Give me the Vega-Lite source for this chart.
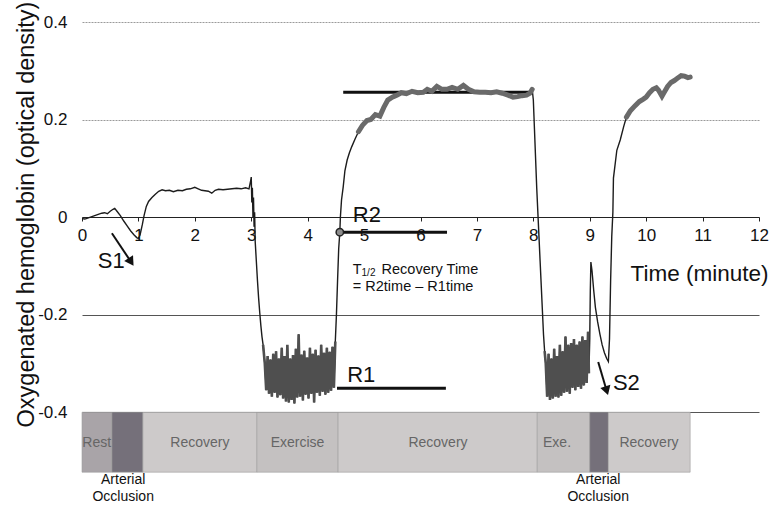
{
  "$schema": "https://vega.github.io/schema/vega-lite/v6.json",
  "width": 677,
  "height": 478,
  "autosize": {"type": "none"},
  "padding": {"left": 82, "top": 22, "right": 12, "bottom": 5},
  "background": "white",
  "config": {"view": {"stroke": null}, "font": "Liberation Sans"},
  "datasets": {
    "trace": [
      {"t": 0.00, "od": -0.003}, {"t": 0.05, "od": -0.004}, {"t": 0.10, "od": -0.002}, {"t": 0.15, "od": 0.000},
      {"t": 0.20, "od": 0.002}, {"t": 0.25, "od": 0.004}, {"t": 0.30, "od": 0.006}, {"t": 0.35, "od": 0.008},
      {"t": 0.40, "od": 0.009}, {"t": 0.45, "od": 0.007}, {"t": 0.50, "od": 0.012}, {"t": 0.55, "od": 0.016},
      {"t": 0.58, "od": 0.018}, {"t": 0.62, "od": 0.012}, {"t": 0.68, "od": 0.003}, {"t": 0.74, "od": -0.008},
      {"t": 0.80, "od": -0.018}, {"t": 0.86, "od": -0.028}, {"t": 0.92, "od": -0.036}, {"t": 0.97, "od": -0.042},
      {"t": 1.00, "od": -0.044}, {"t": 1.03, "od": -0.036}, {"t": 1.07, "od": -0.015}, {"t": 1.10, "od": 0.003},
      {"t": 1.14, "od": 0.022}, {"t": 1.18, "od": 0.032}, {"t": 1.24, "od": 0.040}, {"t": 1.30, "od": 0.047},
      {"t": 1.36, "od": 0.053}, {"t": 1.42, "od": 0.056}, {"t": 1.48, "od": 0.054}, {"t": 1.55, "od": 0.055},
      {"t": 1.62, "od": 0.052}, {"t": 1.70, "od": 0.055}, {"t": 1.78, "od": 0.054}, {"t": 1.85, "od": 0.057},
      {"t": 1.92, "od": 0.058}, {"t": 2.00, "od": 0.061}, {"t": 2.06, "od": 0.058}, {"t": 2.12, "od": 0.055},
      {"t": 2.18, "od": 0.054}, {"t": 2.24, "od": 0.053}, {"t": 2.30, "od": 0.049}, {"t": 2.36, "od": 0.055},
      {"t": 2.42, "od": 0.057}, {"t": 2.50, "od": 0.056}, {"t": 2.58, "od": 0.057}, {"t": 2.66, "od": 0.058},
      {"t": 2.74, "od": 0.059}, {"t": 2.82, "od": 0.058}, {"t": 2.90, "od": 0.060}, {"t": 2.96, "od": 0.058},
      {"t": 2.99, "od": 0.075}, {"t": 3.00, "od": 0.082}, {"t": 3.01, "od": 0.030}, {"t": 3.02, "od": 0.060},
      {"t": 3.03, "od": 0.000}, {"t": 3.04, "od": 0.040}, {"t": 3.05, "od": -0.020}, {"t": 3.06, "od": 0.010},
      {"t": 3.07, "od": -0.050}, {"t": 3.09, "od": -0.090}, {"t": 3.11, "od": -0.130}, {"t": 3.13, "od": -0.165},
      {"t": 3.15, "od": -0.195}, {"t": 3.17, "od": -0.222}, {"t": 3.19, "od": -0.245}, {"t": 3.21, "od": -0.262},
      {"t": 3.240, "od": -0.300}, {"t": 3.265, "od": -0.355}, {"t": 3.290, "od": -0.285}, {"t": 3.315, "od": -0.362},
      {"t": 3.340, "od": -0.292}, {"t": 3.365, "od": -0.368}, {"t": 3.390, "od": -0.280}, {"t": 3.415, "od": -0.360},
      {"t": 3.440, "od": -0.275}, {"t": 3.465, "od": -0.370}, {"t": 3.490, "od": -0.290}, {"t": 3.515, "od": -0.365},
      {"t": 3.540, "od": -0.268}, {"t": 3.565, "od": -0.372}, {"t": 3.590, "od": -0.285}, {"t": 3.615, "od": -0.378},
      {"t": 3.640, "od": -0.262}, {"t": 3.665, "od": -0.380}, {"t": 3.690, "od": -0.290}, {"t": 3.715, "od": -0.375},
      {"t": 3.740, "od": -0.283}, {"t": 3.765, "od": -0.382}, {"t": 3.790, "od": -0.270}, {"t": 3.815, "od": -0.370},
      {"t": 3.840, "od": -0.240}, {"t": 3.865, "od": -0.368}, {"t": 3.890, "od": -0.282}, {"t": 3.915, "od": -0.376},
      {"t": 3.940, "od": -0.274}, {"t": 3.965, "od": -0.364}, {"t": 3.990, "od": -0.288}, {"t": 4.015, "od": -0.372},
      {"t": 4.040, "od": -0.268}, {"t": 4.065, "od": -0.362}, {"t": 4.090, "od": -0.280}, {"t": 4.115, "od": -0.380},
      {"t": 4.140, "od": -0.272}, {"t": 4.165, "od": -0.360}, {"t": 4.190, "od": -0.284}, {"t": 4.215, "od": -0.366},
      {"t": 4.240, "od": -0.262}, {"t": 4.265, "od": -0.358}, {"t": 4.290, "od": -0.278}, {"t": 4.315, "od": -0.364},
      {"t": 4.340, "od": -0.268}, {"t": 4.365, "od": -0.360}, {"t": 4.390, "od": -0.276}, {"t": 4.415, "od": -0.356},
      {"t": 4.440, "od": -0.266}, {"t": 4.465, "od": -0.350}, {"t": 4.490, "od": -0.255},
      {"t": 4.51, "od": -0.200}, {"t": 4.53, "od": -0.130}, {"t": 4.55, "od": -0.065}, {"t": 4.57, "od": -0.031},
      {"t": 4.58, "od": 0.000}, {"t": 4.60, "od": 0.035}, {"t": 4.63, "od": 0.062}, {"t": 4.66, "od": 0.095},
      {"t": 4.70, "od": 0.117}, {"t": 4.74, "od": 0.132}, {"t": 4.78, "od": 0.144}, {"t": 4.84, "od": 0.160},
      {"t": 4.90, "od": 0.175}, {"t": 4.97, "od": 0.188}, {"t": 5.05, "od": 0.198}, {"t": 5.12, "od": 0.200},
      {"t": 5.20, "od": 0.210}, {"t": 5.28, "od": 0.207}, {"t": 5.35, "od": 0.225}, {"t": 5.42, "od": 0.240},
      {"t": 5.50, "od": 0.246}, {"t": 5.58, "od": 0.250}, {"t": 5.66, "od": 0.255}, {"t": 5.75, "od": 0.253},
      {"t": 5.85, "od": 0.258}, {"t": 5.95, "od": 0.255}, {"t": 6.05, "od": 0.256}, {"t": 6.12, "od": 0.262},
      {"t": 6.20, "od": 0.258}, {"t": 6.29, "od": 0.268}, {"t": 6.38, "od": 0.262}, {"t": 6.47, "od": 0.262},
      {"t": 6.56, "od": 0.266}, {"t": 6.66, "od": 0.262}, {"t": 6.76, "od": 0.270}, {"t": 6.85, "od": 0.262},
      {"t": 6.95, "od": 0.257}, {"t": 7.05, "od": 0.256}, {"t": 7.15, "od": 0.256}, {"t": 7.25, "od": 0.255},
      {"t": 7.35, "od": 0.257}, {"t": 7.45, "od": 0.254}, {"t": 7.55, "od": 0.250}, {"t": 7.64, "od": 0.246},
      {"t": 7.72, "od": 0.247}, {"t": 7.80, "od": 0.249}, {"t": 7.88, "od": 0.250}, {"t": 7.94, "od": 0.254},
      {"t": 7.98, "od": 0.262}, {"t": 8.00, "od": 0.240}, {"t": 8.02, "od": 0.180}, {"t": 8.04, "od": 0.120},
      {"t": 8.06, "od": 0.060}, {"t": 8.08, "od": 0.010}, {"t": 8.10, "od": -0.040}, {"t": 8.12, "od": -0.090},
      {"t": 8.14, "od": -0.140}, {"t": 8.16, "od": -0.190}, {"t": 8.18, "od": -0.240}, {"t": 8.20, "od": -0.275},
      {"t": 8.220, "od": -0.300}, {"t": 8.245, "od": -0.368}, {"t": 8.270, "od": -0.280}, {"t": 8.295, "od": -0.375},
      {"t": 8.320, "od": -0.290}, {"t": 8.345, "od": -0.372}, {"t": 8.370, "od": -0.270}, {"t": 8.395, "od": -0.368},
      {"t": 8.420, "od": -0.285}, {"t": 8.445, "od": -0.370}, {"t": 8.470, "od": -0.262}, {"t": 8.495, "od": -0.366},
      {"t": 8.520, "od": -0.275}, {"t": 8.545, "od": -0.360}, {"t": 8.570, "od": -0.245}, {"t": 8.595, "od": -0.358},
      {"t": 8.620, "od": -0.262}, {"t": 8.645, "od": -0.362}, {"t": 8.670, "od": -0.258}, {"t": 8.695, "od": -0.350},
      {"t": 8.720, "od": -0.250}, {"t": 8.745, "od": -0.355}, {"t": 8.770, "od": -0.262}, {"t": 8.795, "od": -0.348},
      {"t": 8.820, "od": -0.255}, {"t": 8.845, "od": -0.352}, {"t": 8.870, "od": -0.245}, {"t": 8.895, "od": -0.345},
      {"t": 8.920, "od": -0.252}, {"t": 8.945, "od": -0.340}, {"t": 8.970, "od": -0.235}, {"t": 8.985, "od": -0.320},
      {"t": 9.00, "od": -0.250}, {"t": 9.01, "od": -0.150}, {"t": 9.02, "od": -0.092}, {"t": 9.04, "od": -0.110},
      {"t": 9.07, "od": -0.150}, {"t": 9.10, "od": -0.185}, {"t": 9.14, "od": -0.215}, {"t": 9.18, "od": -0.240},
      {"t": 9.22, "od": -0.262}, {"t": 9.26, "od": -0.278}, {"t": 9.30, "od": -0.290}, {"t": 9.33, "od": -0.296},
      {"t": 9.35, "od": -0.250}, {"t": 9.37, "od": -0.130}, {"t": 9.39, "od": -0.040}, {"t": 9.41, "od": 0.010},
      {"t": 9.42, "od": 0.080}, {"t": 9.48, "od": 0.137}, {"t": 9.54, "od": 0.158}, {"t": 9.60, "od": 0.185},
      {"t": 9.65, "od": 0.205}, {"t": 9.72, "od": 0.218}, {"t": 9.80, "od": 0.228}, {"t": 9.88, "od": 0.237},
      {"t": 9.95, "od": 0.242}, {"t": 10.00, "od": 0.246}, {"t": 10.06, "od": 0.255}, {"t": 10.12, "od": 0.262},
      {"t": 10.18, "od": 0.265}, {"t": 10.22, "od": 0.260}, {"t": 10.28, "od": 0.248}, {"t": 10.32, "od": 0.256},
      {"t": 10.38, "od": 0.268}, {"t": 10.44, "od": 0.276}, {"t": 10.50, "od": 0.280}, {"t": 10.56, "od": 0.285},
      {"t": 10.62, "od": 0.290}, {"t": 10.68, "od": 0.289}, {"t": 10.74, "od": 0.286}, {"t": 10.78, "od": 0.287}
    ],
    "protocol": [
      {"kind": "Rest", "start": 0, "end": 0.53},
      {"kind": "Occlusion", "start": 0.53, "end": 1.08},
      {"kind": "Recovery", "start": 1.08, "end": 3.1},
      {"kind": "Exercise", "start": 3.1, "end": 4.54},
      {"kind": "Recovery", "start": 4.54, "end": 8.07},
      {"kind": "Exercise", "start": 8.07, "end": 9.0},
      {"kind": "Occlusion", "start": 9.0, "end": 9.33},
      {"kind": "Recovery", "start": 9.33, "end": 10.78}
    ],
    "captions": [
      {"text": "Rest", "t": 0.26, "od": -0.463, "role": "bar"},
      {"text": "Recovery", "t": 2.09, "od": -0.463, "role": "bar"},
      {"text": "Exercise", "t": 3.82, "od": -0.463, "role": "bar"},
      {"text": "Recovery", "t": 6.31, "od": -0.463, "role": "bar"},
      {"text": "Exe.", "t": 8.42, "od": -0.463, "role": "bar"},
      {"text": "Recovery", "t": 10.05, "od": -0.463, "role": "bar"},
      {"text": "Arterial", "t": 0.73, "od": -0.539, "role": "cap"},
      {"text": "Occlusion", "t": 0.73, "od": -0.574, "role": "cap"},
      {"text": "Arterial", "t": 9.15, "od": -0.539, "role": "cap"},
      {"text": "Occlusion", "t": 9.15, "od": -0.574, "role": "cap"}
    ],
    "notes": [
      {"text": "R2", "t": 4.80, "od": -0.010, "role": "big"},
      {"text": "R1", "t": 4.70, "od": -0.338, "role": "big"},
      {"text": "S1", "t": 0.28, "od": -0.105, "role": "big"},
      {"text": "S2", "t": 9.41, "od": -0.355, "role": "big"},
      {"text": "T", "t": 4.80, "od": -0.117, "role": "mid"},
      {"text": "1/2", "t": 4.955, "od": -0.121, "role": "sub"},
      {"text": "Recovery Time", "t": 5.31, "od": -0.117, "role": "mid"},
      {"text": "= R2time – R1time", "t": 4.80, "od": -0.152, "role": "mid"}
    ],
    "levels": [
      {"name": "plateau", "t1": 4.63, "t2": 7.98, "v": 0.256},
      {"name": "R2", "t1": 4.57, "t2": 6.47, "v": -0.031},
      {"name": "R1", "t1": 4.52, "t2": 6.45, "v": -0.351}
    ],
    "arrows": [
      {"name": "S1", "t1": 0.53, "v1": -0.033, "t2": 0.87, "v2": -0.092},
      {"name": "S2", "t1": 9.15, "v1": -0.297, "t2": 9.30, "v2": -0.356}
    ]
  },
  "layer": [
    {
      "data": {"name": "protocol"},
      "mark": {"type": "rect", "stroke": "#a0a0a0", "strokeWidth": 0.6},
      "encoding": {
        "x": {"field": "start", "type": "quantitative"},
        "x2": {"field": "end"},
        "y": {"datum": -0.4, "type": "quantitative"},
        "y2": {"datum": -0.523},
        "fill": {
          "field": "kind", "type": "nominal", "legend": null,
          "scale": {"domain": ["Rest", "Occlusion", "Recovery", "Exercise"], "range": ["#a9a4a8", "#75707a", "#cdcaca", "#c4c1c1"]}
        }
      }
    },
    {
      "data": {"name": "captions"},
      "transform": [{"filter": "datum.role === 'bar'"}],
      "mark": {"type": "text", "align": "center", "baseline": "middle", "fontSize": 14, "color": "#666666"},
      "encoding": {
        "x": {"field": "t", "type": "quantitative"},
        "y": {"field": "od", "type": "quantitative"},
        "text": {"field": "text"}
      }
    },
    {
      "data": {"name": "captions"},
      "transform": [{"filter": "datum.role === 'cap'"}],
      "mark": {"type": "text", "align": "center", "baseline": "middle", "fontSize": 14, "color": "#111111"},
      "encoding": {
        "x": {"field": "t", "type": "quantitative"},
        "y": {"field": "od", "type": "quantitative"},
        "text": {"field": "text"}
      }
    },
    {
      "mark": {"type": "rule", "color": "#8a8a8a", "strokeWidth": 1},
      "encoding": {
        "x": {"datum": 0, "type": "quantitative"},
        "y": {"datum": -0.4, "type": "quantitative"},
        "y2": {"datum": 0.4}
      }
    },
    {
      "data": {"name": "levels"},
      "mark": {"type": "rule", "color": "#111111", "strokeWidth": 3},
      "encoding": {
        "x": {"field": "t1", "type": "quantitative"},
        "x2": {"field": "t2"},
        "y": {"field": "v", "type": "quantitative"}
      }
    },
    {
      "data": {"name": "trace"},
      "mark": {"type": "line", "color": "#1c1c1c", "strokeWidth": 1.4},
      "encoding": {
        "x": {
          "field": "t", "type": "quantitative",
          "scale": {"domain": [0, 12], "nice": false, "zero": false},
          "axis": {
            "orient": "bottom", "offset": -283,
            "values": [0, 1, 2, 3, 4, 5, 6, 7, 8, 9, 10, 11, 12],
            "labelExpr": "'' + datum.value",
            "grid": false, "domainColor": "#222222", "domainWidth": 1,
            "tickColor": "#222222", "tickSize": 4,
            "labelFontSize": 17, "labelColor": "#111111", "labelPadding": 6, "labelFlush": false,
            "title": "Time (minute)", "titleFontSize": 22.5, "titleFontWeight": "normal", "titleColor": "#111111",
            "titleX": 686, "titleY": 63, "titleAlign": "right", "titleBaseline": "alphabetic"
          }
        },
        "y": {
          "field": "od", "type": "quantitative",
          "scale": {"domain": [-0.58, 0.4], "nice": false, "zero": false},
          "axis": {
            "values": [-0.4, -0.2, 0, 0.2, 0.4],
            "labelExpr": "'' + datum.value",
            "domain": false, "ticks": false, "labelPadding": 15,
            "labelFontSize": 17, "labelColor": "#111111",
            "grid": true, "gridWidth": 1,
            "gridColor": {"condition": {"test": "datum.value < 0", "value": "#555555"}, "value": "#9a9a9a"},
            "gridDash": {"condition": {"test": "datum.value < 0", "value": []}, "value": [2, 1]},
            "title": "Oxygenated hemoglobin (optical density)",
            "titleFontSize": 23.5, "titleFontWeight": "normal", "titleColor": "#111111",
            "titleX": -56, "titleY": 192, "titleAlign": "center", "titleBaseline": "middle", "titleAngle": -90
          }
        }
      }
    },
    {
      "data": {"name": "trace"},
      "transform": [{"filter": "datum.t >= 3.21 && datum.t <= 4.49"}],
      "mark": {"type": "line", "color": "#4f4f4f", "strokeWidth": 2.6},
      "encoding": {
        "x": {"field": "t", "type": "quantitative"},
        "y": {"field": "od", "type": "quantitative"}
      }
    },
    {
      "data": {"name": "trace"},
      "transform": [{"filter": "datum.t >= 8.2 && datum.t <= 8.99"}],
      "mark": {"type": "line", "color": "#4f4f4f", "strokeWidth": 2.6},
      "encoding": {
        "x": {"field": "t", "type": "quantitative"},
        "y": {"field": "od", "type": "quantitative"}
      }
    },
    {
      "data": {"name": "trace"},
      "transform": [{"filter": "datum.t >= 4.9 && datum.t <= 7.98"}],
      "mark": {"type": "line", "color": "#6a6a6a", "strokeWidth": 5, "strokeCap": "round"},
      "encoding": {
        "x": {"field": "t", "type": "quantitative"},
        "y": {"field": "od", "type": "quantitative"}
      }
    },
    {
      "data": {"name": "trace"},
      "transform": [{"filter": "datum.t >= 9.65 && datum.t <= 10.78"}],
      "mark": {"type": "line", "color": "#6a6a6a", "strokeWidth": 5, "strokeCap": "round"},
      "encoding": {
        "x": {"field": "t", "type": "quantitative"},
        "y": {"field": "od", "type": "quantitative"}
      }
    },
    {
      "data": {"values": [{"t": 4.57, "od": -0.031}]},
      "mark": {"type": "point", "shape": "circle", "filled": true, "fill": "#8c8c8c", "stroke": "#222222", "strokeWidth": 1.5, "size": 55, "opacity": 1},
      "encoding": {
        "x": {"field": "t", "type": "quantitative"},
        "y": {"field": "od", "type": "quantitative"}
      }
    },
    {
      "data": {"name": "arrows"},
      "mark": {"type": "rule", "color": "#111111", "strokeWidth": 2},
      "encoding": {
        "x": {"field": "t1", "type": "quantitative"},
        "x2": {"field": "t2"},
        "y": {"field": "v1", "type": "quantitative"},
        "y2": {"field": "v2"}
      }
    },
    {
      "data": {"name": "arrows"},
      "transform": [{"filter": "datum.name === 'S1'"}],
      "mark": {"type": "point", "shape": "triangle-down", "filled": true, "color": "#111111", "size": 110, "angle": -33, "opacity": 1},
      "encoding": {
        "x": {"field": "t2", "type": "quantitative"},
        "y": {"field": "v2", "type": "quantitative"}
      }
    },
    {
      "data": {"name": "arrows"},
      "transform": [{"filter": "datum.name === 'S2'"}],
      "mark": {"type": "point", "shape": "triangle-down", "filled": true, "color": "#111111", "size": 110, "angle": -17, "opacity": 1},
      "encoding": {
        "x": {"field": "t2", "type": "quantitative"},
        "y": {"field": "v2", "type": "quantitative"}
      }
    },
    {
      "data": {"name": "notes"},
      "transform": [{"filter": "datum.role === 'big'"}],
      "mark": {"type": "text", "align": "left", "baseline": "alphabetic", "color": "#111111", "fontSize": 22},
      "encoding": {
        "x": {"field": "t", "type": "quantitative"},
        "y": {"field": "od", "type": "quantitative"},
        "text": {"field": "text"}
      }
    },
    {
      "data": {"name": "notes"},
      "transform": [{"filter": "datum.role === 'mid'"}],
      "mark": {"type": "text", "align": "left", "baseline": "alphabetic", "color": "#111111", "fontSize": 14.5},
      "encoding": {
        "x": {"field": "t", "type": "quantitative"},
        "y": {"field": "od", "type": "quantitative"},
        "text": {"field": "text"}
      }
    },
    {
      "data": {"name": "notes"},
      "transform": [{"filter": "datum.role === 'sub'"}],
      "mark": {"type": "text", "align": "left", "baseline": "alphabetic", "color": "#111111", "fontSize": 10},
      "encoding": {
        "x": {"field": "t", "type": "quantitative"},
        "y": {"field": "od", "type": "quantitative"},
        "text": {"field": "text"}
      }
    }
  ]
}
